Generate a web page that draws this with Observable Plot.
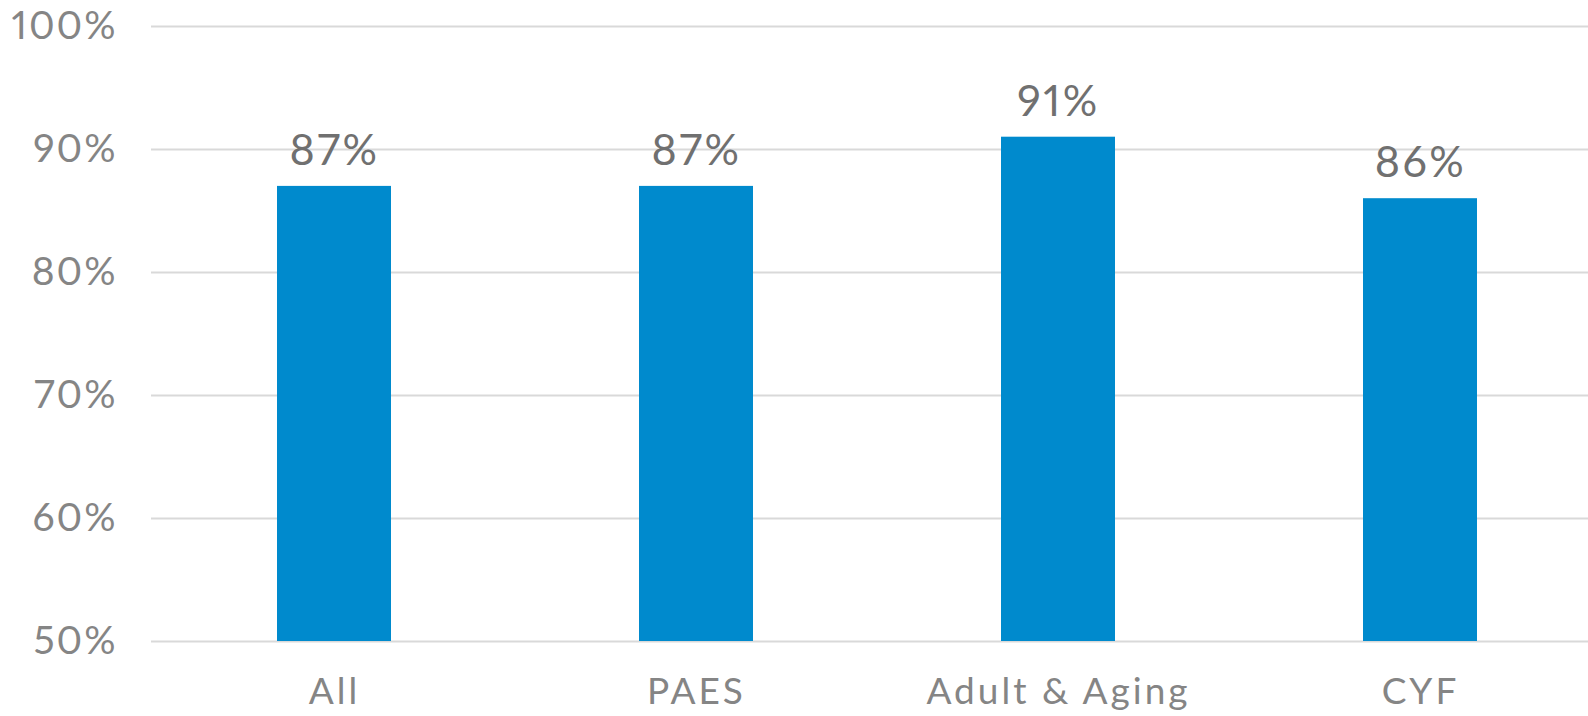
<!DOCTYPE html>
<html>
<head>
<meta charset="utf-8">
<script src="https://cdn.jsdelivr.net/npm/d3@7"></script>
<script src="https://cdn.jsdelivr.net/npm/@observablehq/plot@0.6"></script>
<style>
  html, body { margin: 0; padding: 0; background: #fff; overflow: hidden; }
  #chart svg { display: block; max-width: none !important; }
  #chart text { font-variant-numeric: proportional-nums; }
</style>
</head>
<body>
<div id="chart"></div>
<script>
// Share of respondents by program area (percent)
const groups = ["All", "PAES", "Adult & Aging", "CYF"];
const shares = [87, 87, 91, 86];
const yTicks = [50, 60, 70, 80, 90, 100];

const rows = groups.map((g, i) => ({group: g, share: shares[i]}));

const font = "Lato, 'Open Sans', sans-serif";

// The plot runs a little past the right edge of the page, so the last band is clipped
const chart = Plot.plot({
  width: 1602,
  height: 716,
  marginLeft: 151,
  marginRight: 0,
  marginTop: 26,
  marginBottom: 75,
  style: {fontFamily: font, background: "#fff", maxWidth: "none"},
  x: {domain: groups, paddingInner: 0.686, paddingOuter: 0.343, label: null},
  y: {domain: [50, 100], label: null},
  marks: [
    Plot.gridY(yTicks, {stroke: "#d9d9d9", strokeOpacity: 1, strokeWidth: 2}),
    Plot.barY(rows, {x: "group", y1: 50, y2: "share", fill: "#008acd"}),
    Plot.text(rows, {
      x: "group", y: "share", text: d => d.share + "%",
      dy: -35, fill: "#707070", fontSize: 43, fontWeight: 400, lineAnchor: "middle"
    }),
    Plot.axisY(yTicks, {
      tickSize: 0, tickPadding: 34, tickFormat: d => d + "%",
      fontSize: 39, fontWeight: 400, fill: "#858585", label: null
    }),
    Plot.axisX({
      tickSize: 0, tickPadding: 36, fontSize: 37, fontWeight: 400, fill: "#858585", label: null
    })
  ]
});

// Letter spacing on the axis and value labels
d3.select(chart).selectAll("g[aria-label='x-axis tick label'] text").style("letter-spacing", "3px");
d3.select(chart).selectAll("g[aria-label='y-axis tick label'] text").style("letter-spacing", "2px");
d3.select(chart).selectAll("g[aria-label='text'] text").style("letter-spacing", "2.5px");

document.getElementById("chart").appendChild(chart);
</script>
</body>
</html>
